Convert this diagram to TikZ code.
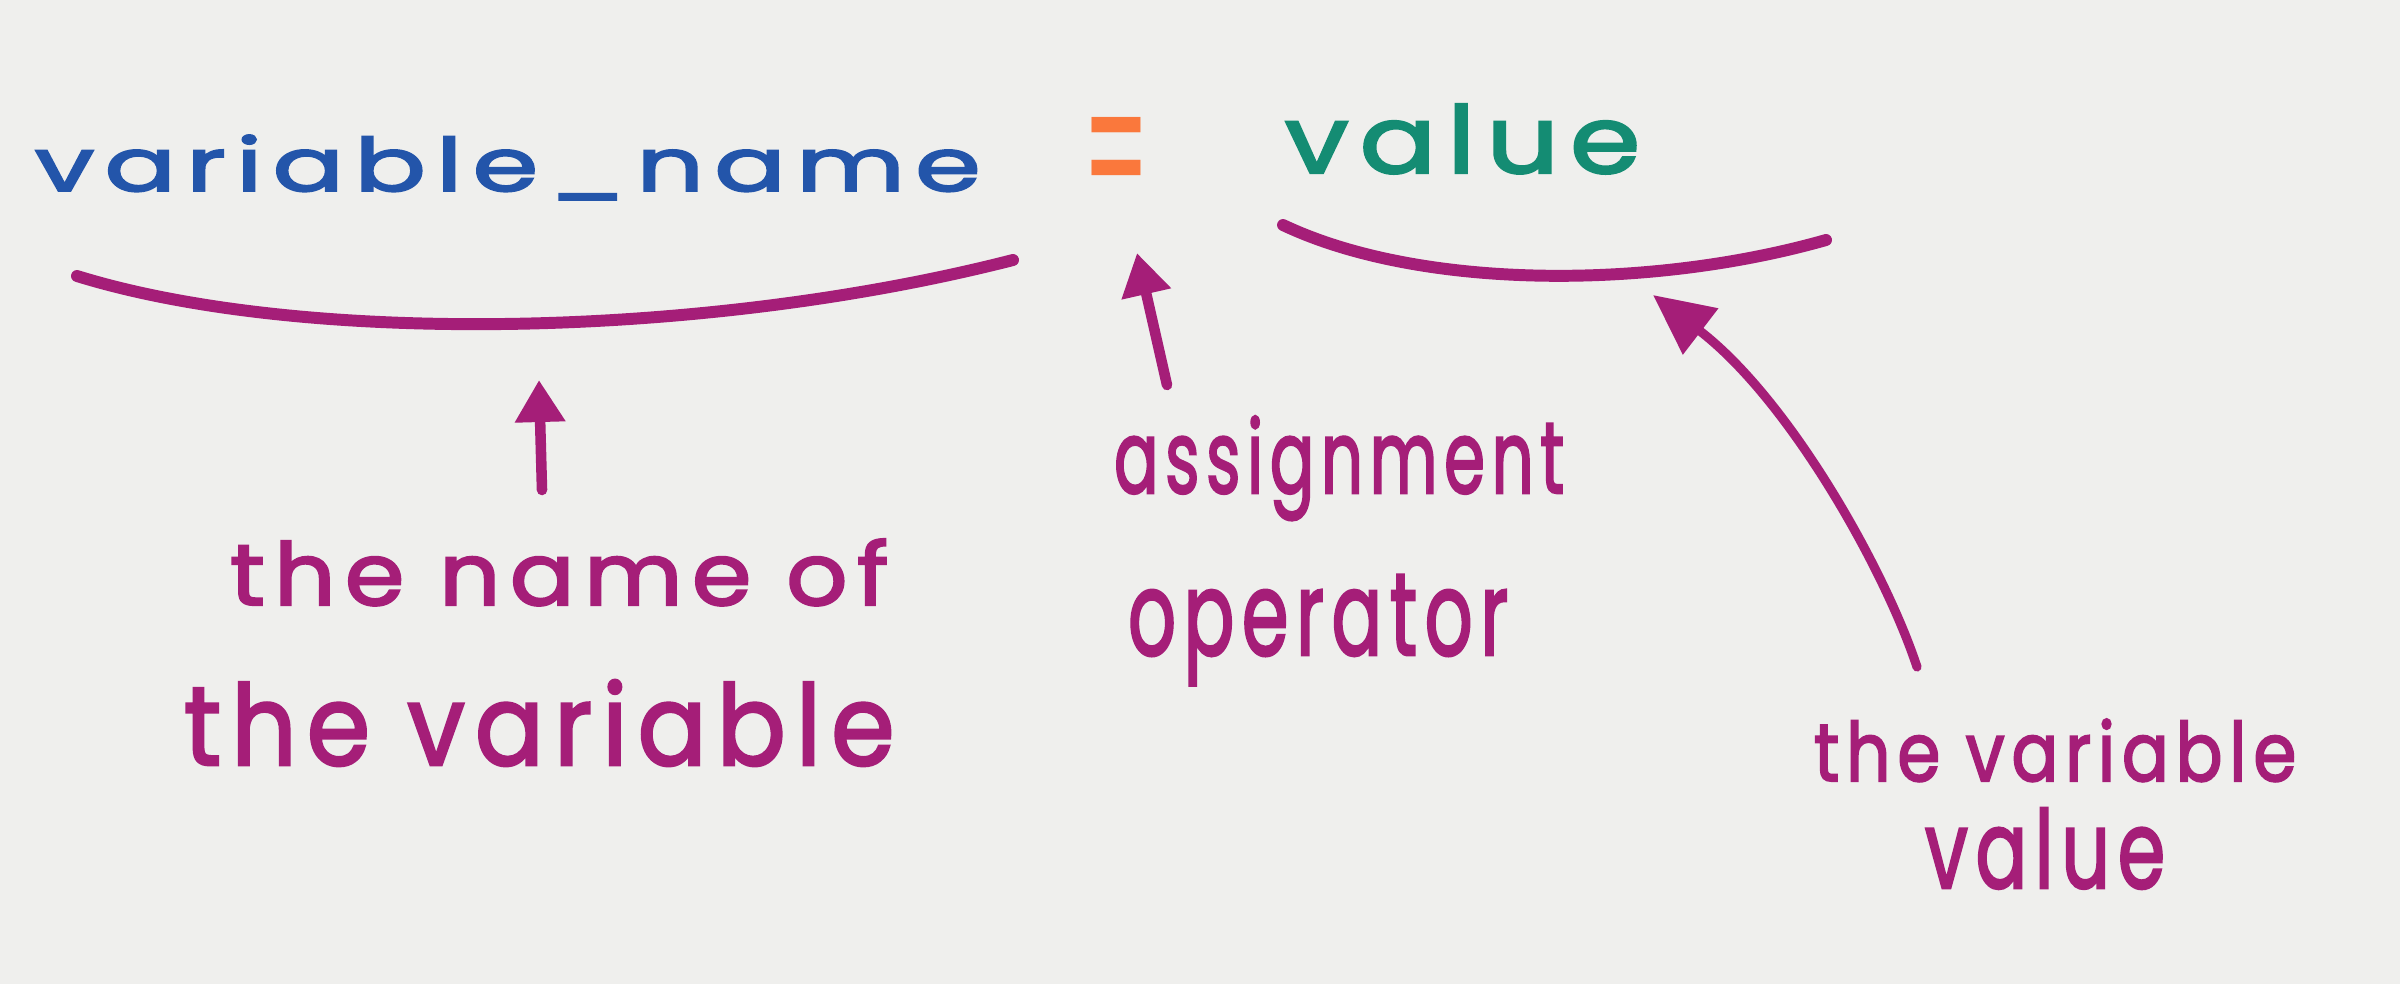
\documentclass[tikz,border=0pt]{standalone}
\usepackage{fontspec}
\setmainfont{Poppins}[LetterSpace=10, FakeBold=2.5]
\newfontfamily\eqfont{Poppins}
\usetikzlibrary{arrows.meta}
\definecolor{paper}{RGB}{239,239,237}
\definecolor{inkblue}{RGB}{35,85,170}
\definecolor{inkteal}{RGB}{20,140,115}
\definecolor{inkorange}{RGB}{250,120,60}
\definecolor{inkmag}{RGB}{165,30,120}
\newcommand{\hw}[3]{\resizebox{#1cm}{#2cm}{#3}}
\tikzset{
  lbl/.style={inner sep=0pt, outer sep=0pt, anchor=base west, text=inkmag},
  brace/.style={draw=inkmag, line width=3.4pt, line cap=round},
  pointer/.style={draw=inkmag, line width=3pt, line cap=round, -{Triangle[length=0.42cm,width=0.48cm]}},
  bigpointer/.style={draw=inkmag, line width=2.6pt, line cap=round, -{Triangle[length=0.6cm,width=0.56cm]}}
}
\begin{document}
\begin{tikzpicture}[x=0.01cm,y=-0.01cm]
\fill[paper] (0,0) rectangle (2400,984);
\useasboundingbox (0,0) rectangle (2400,984);

% top expression
\node[lbl, text=inkblue] (vn) at (35,191) {\hw{9.45}{0.56}{variable\_name}};
\node[inner sep=0pt, text=inkorange, font=\eqfont] (eq) at (1117,168) {\hw{0.68}{1.02}{=}};
\node[lbl, text=inkteal] (val) at (1285,173) {\hw{3.55}{0.69}{value}};

% braces
\coordinate (b1l) at (77,276);
\coordinate (b1r) at (1013,260);
\coordinate (b2l) at (1283,225);
\coordinate (b2r) at (1826,240);
\draw[brace] (b1l) .. controls (300,345) and (700,340) .. (b1r);
\draw[brace] (b2l) .. controls (1420,290) and (1650,290) .. (b2r);

% labels
\node[lbl] (n1) at (230,605) {\hw{6.58}{0.66}{the name of}};
\node[lbl] (n2) at (184,765) {\hw{7.1}{0.85}{the variable}};
\node[lbl] (a1) at (1114,493) {\hw{4.5}{0.77}{assignment}};
\node[lbl] (a2) at (1128,655) {\hw{3.8}{0.8}{operator}};
\node[lbl] (v1) at (1814,781) {\hw{4.82}{0.62}{the variable}};
\node[lbl] (v2) at (1925,888) {\hw{2.4}{0.8}{value}};

% arrows
\coordinate (p1t) at (542,490);
\coordinate (p1h) at (539,380);
\coordinate (p2t) at (1167,385);
\coordinate (p2h) at (1137,253);
\coordinate (p3t) at (1917,667);
\coordinate (p3h) at (1653,295);
\draw[pointer] (p1t) -- (p1h);
\draw[pointer] (p2t) -- (p2h);
\draw[bigpointer] (p3t) .. controls (1885,570) and (1790,400) .. (p3h);
\end{tikzpicture}
\end{document}
